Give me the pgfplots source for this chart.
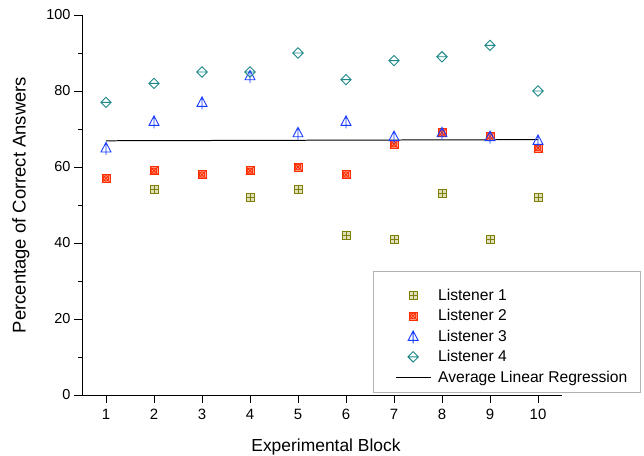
\documentclass[border=0pt]{standalone}
\usepackage{fontspec}
\setmainfont{Liberation Sans}
\usepackage{pgfplots}
\pgfplotsset{compat=1.18}

\definecolor{cone}{RGB}{128,128,0}
\definecolor{ctwo}{RGB}{255,45,0}
\definecolor{cthree}{RGB}{25,60,255}
\definecolor{cfour}{RGB}{30,135,135}

\pgfplotsset{
  markleg/.style={legend image code/.code={\draw[mark repeat=2,mark phase=2,##1] plot coordinates {(0bp,0bp)(17.5bp,0bp)(35bp,0bp)};}},
  lineleg/.style={legend image code/.code={\draw[##1] (0bp,0bp)--(35bp,0bp);}},
}

\pgfdeclareplotmark{sqplus}{%
  \pgfpathrectangle{\pgfpoint{-\pgfplotmarksize}{-\pgfplotmarksize}}{\pgfpoint{2\pgfplotmarksize}{2\pgfplotmarksize}}%
  \pgfusepathqfillstroke
  \pgfpathmoveto{\pgfpoint{-\pgfplotmarksize}{0pt}}\pgfpathlineto{\pgfpoint{\pgfplotmarksize}{0pt}}%
  \pgfpathmoveto{\pgfpoint{0pt}{-\pgfplotmarksize}}\pgfpathlineto{\pgfpoint{0pt}{\pgfplotmarksize}}%
  \pgfusepathqstroke}
\pgfdeclareplotmark{sqcross}{%
  \pgfpathrectangle{\pgfpoint{-\pgfplotmarksize}{-\pgfplotmarksize}}{\pgfpoint{2\pgfplotmarksize}{2\pgfplotmarksize}}%
  \pgfusepathqfillstroke
  \pgfpathcircle{\pgfpoint{0pt}{0pt}}{0.7\pgfplotmarksize}%
  \pgfpathmoveto{\pgfpoint{-\pgfplotmarksize}{-\pgfplotmarksize}}\pgfpathlineto{\pgfpoint{\pgfplotmarksize}{\pgfplotmarksize}}%
  \pgfpathmoveto{\pgfpoint{-\pgfplotmarksize}{\pgfplotmarksize}}\pgfpathlineto{\pgfpoint{\pgfplotmarksize}{-\pgfplotmarksize}}%
  \pgfusepathqstroke}
\pgfdeclareplotmark{tristem}{%
  \pgfpathmoveto{\pgfpoint{0pt}{1.1\pgfplotmarksize}}%
  \pgfpathlineto{\pgfpoint{-\pgfplotmarksize}{-0.8\pgfplotmarksize}}%
  \pgfpathlineto{\pgfpoint{\pgfplotmarksize}{-0.8\pgfplotmarksize}}%
  \pgfpathclose
  \pgfpathmoveto{\pgfpoint{0pt}{1.1\pgfplotmarksize}}\pgfpathlineto{\pgfpoint{0pt}{-1.4\pgfplotmarksize}}%
  \pgfusepathqstroke}
\pgfdeclareplotmark{diabar}{%
  \pgfpathmoveto{\pgfpoint{0pt}{1.15\pgfplotmarksize}}%
  \pgfpathlineto{\pgfpoint{1.15\pgfplotmarksize}{0pt}}%
  \pgfpathlineto{\pgfpoint{0pt}{-1.15\pgfplotmarksize}}%
  \pgfpathlineto{\pgfpoint{-1.15\pgfplotmarksize}{0pt}}%
  \pgfpathclose
  \pgfpathmoveto{\pgfpoint{-1.15\pgfplotmarksize}{0pt}}\pgfpathlineto{\pgfpoint{1.15\pgfplotmarksize}{0pt}}%
  \pgfusepathqstroke}

\begin{document}
\begin{tikzpicture}
\useasboundingbox (-82bp,-61bp) rectangle (562bp,395bp);
\begin{axis}[
  at={(0,0)}, anchor=south west,
  scale only axis, width=480bp, height=380bp,
  xmin=0.5, xmax=10.5, ymin=0, ymax=100,
  axis lines*=left,
  xtick={1,...,10}, ytick={0,20,...,100}, minor ytick={10,30,...,90},
  tick align=outside,
  major tick length=8bp, minor tick length=4bp,
  tick style={black, line width=0.8pt},
  axis line style={black, line width=0.9pt},
  yticklabel style={font=\fontsize{14.5}{16}\selectfont},
  xticklabel style={font=\fontsize{15}{16}\selectfont, yshift=-3bp},
  /pgf/number format/assume math mode=true,
  xlabel={Experimental Block},
  ylabel={Percentage of Correct Answers},
  xlabel style={font=\fontsize{17.5}{20}\selectfont, yshift=-12bp, xshift=4bp},
  ylabel style={font=\fontsize{18.5}{20}\selectfont, yshift=10bp},
  clip=false,
  legend cell align=left,
  legend style={draw=none, fill=none, inner sep=0pt,
    at={(rel axis cs:0.652,0.2842)}, anchor=north west,
    font=\fontsize{15.7}{18}\selectfont,
    column sep=5bp, row sep=3.6bp},
]
\addplot[only marks, draw=cone, fill=cone!25, mark=sqplus, mark size=4bp, line width=0.8pt, markleg]
  coordinates {(1,57)(2,54)(3,58)(4,52)(5,54)(6,42)(7,41)(8,53)(9,41)(10,52)};
\addlegendentry{Listener 1}
\addplot[only marks, draw=ctwo, fill=ctwo!45, mark=sqcross, mark size=4bp, line width=0.8pt, markleg]
  coordinates {(1,57)(2,59)(3,58)(4,59)(5,60)(6,58)(7,66)(8,69)(9,68)(10,65)};
\addlegendentry{Listener 2}
\addplot[only marks, draw=cthree, mark=tristem, mark size=5bp, line width=0.9pt, markleg]
  coordinates {(1,65)(2,72)(3,77)(4,84)(5,69)(6,72)(7,68)(8,69)(9,68)(10,67)};
\addlegendentry{Listener 3}
\addplot[only marks, draw=cfour, mark=diabar, mark size=4.5bp, line width=0.9pt, markleg]
  coordinates {(1,77)(2,82)(3,85)(4,85)(5,90)(6,83)(7,88)(8,89)(9,92)(10,80)};
\addlegendentry{Listener 4}
\addplot[black, line width=1pt, mark=none, lineleg]
  coordinates {(1,66.9)(10,67.2)};
\addlegendentry{Average Linear Regression}
\draw[gray!60, line width=0.8pt] (rel axis cs:0.608,0.326) rectangle (rel axis cs:1.1625,0.008);
\end{axis}
\end{tikzpicture}
\end{document}
